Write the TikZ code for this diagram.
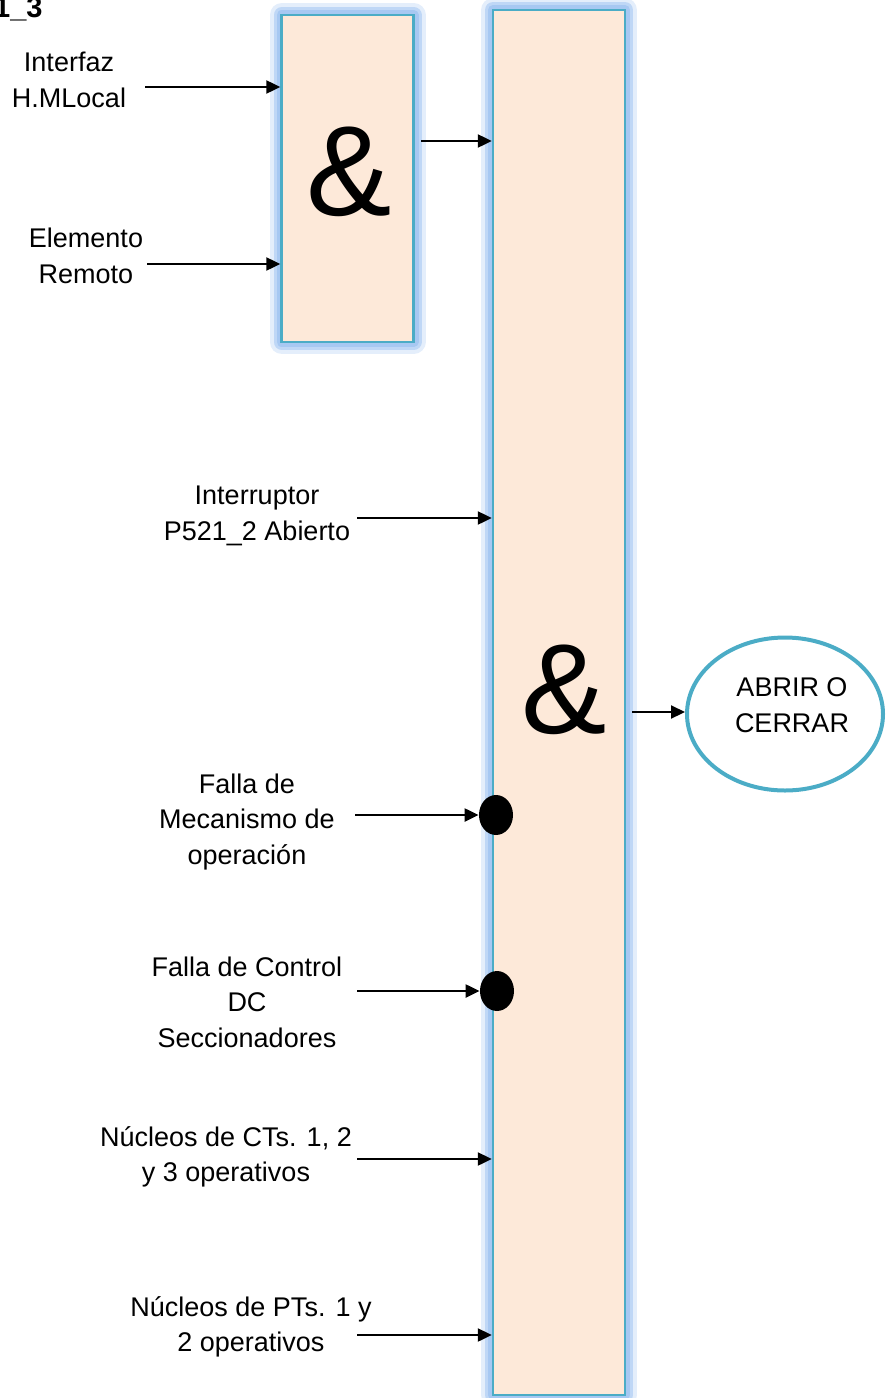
\documentclass[tikz,border=0pt]{standalone}
\usepackage{fontspec}
\setmainfont{Liberation Sans}
\usetikzlibrary{shapes.geometric, arrows.meta, positioning, calc}
\definecolor{gatefill}{HTML}{FDE9D9}
\definecolor{gateline}{HTML}{4BACC6}
\definecolor{gateglow}{HTML}{A7C8F2}

\begin{document}
\begin{tikzpicture}[x=0.5pt, y=-0.5pt, >={Triangle[length=7pt,width=6.5pt]},
    gate/.style={rectangle, draw=gateline, line width=1.2pt, fill=gatefill, inner sep=0pt,
      preaction={draw=gateglow, line width=12pt, line join=round, opacity=0.3},
      preaction={draw=gateglow, line width=8pt, line join=round, opacity=0.6},
      preaction={draw=gateglow, line width=5pt, line join=round}},
    sig/.style={->, line width=1.1pt},
    lbl/.style={align=center, font=\fontsize{13.5}{17.75}\selectfont},
    amp/.style={font=\fontsize{64}{64}\selectfont},
    neg/.style={ellipse, fill=black, minimum width=17pt, minimum height=20pt, inner sep=0pt}]
      \useasboundingbox (0,0) rectangle (893,1398);
      \node [font=\bfseries\fontsize{14.5}{17}\selectfont, anchor=base east, inner sep=0pt] (title) at (43,17) {1\_3};

      % gates
      \node [gate, minimum width=66pt, minimum height=163.5pt] (gate1) at (347.5,178.5) {};
      \node [gate, minimum width=66pt, minimum height=692.5pt] (gate2) at (559,702.5) {};
      \node [amp] (amp1) at (349,172) {\&};
      \node [amp] (amp2) at (564,690) {\&};

      % result
      \node [draw=gateline, line width=2pt, ellipse, minimum width=98pt, minimum height=76.5pt, inner sep=0pt] (res) at (785,714) {};
      \node [lbl] (resTxt) at (792,705) {ABRIR O\\CERRAR};

      % inputs
      \node [lbl] (inHM) at (69,80) {Interfaz\\H.MLocal};
      \node [lbl] (inRem) at (86,256) {Elemento\\Remoto};
      \node [lbl] (inInt) at (257,516) {Interruptor\\P521\_2 Abierto};
      \node [lbl] (inMec) at (247,822) {Falla de\\Mecanismo de\\operación};
      \node [lbl] (inDC) at (247,1002) {Falla de Control\\DC\\Seccionadores};
      \node [lbl] (inCT) at (226,1157) {Núcleos de CTs. 1, 2\\y 3 operativos};
      \node [lbl] (inPT) at (251,1327) {Núcleos de PTs. 1 y\\2 operativos};

      \node [neg] (nMec) at (496,815) {};
      \node [neg] (nDC) at (497,991) {};

      \coordinate (aHM) at (145,87);
      \coordinate (aRem) at (147,264);
      \coordinate (aG1) at (421,141);
      \coordinate (aInt) at (357,518);
      \coordinate (aMec) at (355,815);
      \coordinate (aDC) at (357,991);
      \coordinate (aCT) at (357,1159);
      \coordinate (aPT) at (357,1335);
      \coordinate (aOut) at (632,712);

      \draw [sig] (aHM) -- (aHM -| gate1.west);
      \draw [sig] (aRem) -- (aRem -| gate1.west);
      \draw [sig] (aG1) -- (aG1 -| gate2.west);
      \draw [sig] (aInt) -- (aInt -| gate2.west);
      \draw [sig] (aMec) -- (nMec.west);
      \draw [sig] (aDC) -- (nDC.west);
      \draw [sig] (aCT) -- (aCT -| gate2.west);
      \draw [sig] (aPT) -- (aPT -| gate2.west);
      \draw [sig] (aOut) -- (aOut -| res.west);
    \end{tikzpicture}
\end{document}
